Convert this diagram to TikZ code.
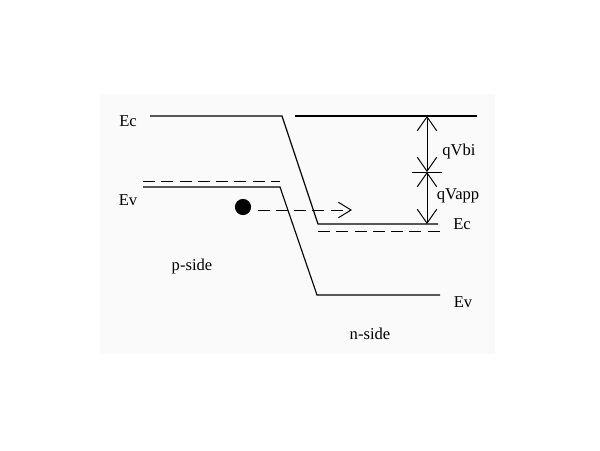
\documentclass[tikz,border=0pt]{standalone}
\usepackage{fontspec}
\setmainfont{Liberation Serif}
\usetikzlibrary{arrows.meta}
\begin{document}
\begin{tikzpicture}[x=0.025cm, y=-0.025cm, line width=0.7pt,
    every node/.style={font=\fontsize{11.8}{13}\selectfont, inner sep=0pt},
    band/.style={draw, line width=0.8pt},
    level/.style={draw, dashed, dash pattern=on 8.5pt off 4.5pt},
    barb/.style={{Straight Barb[length=10pt,width=14pt]}-{Straight Barb[length=10pt,width=14pt]}}]
    % Fond
    \useasboundingbox (0,0) rectangle (600,450);
    \fill[black!2] (100,94) rectangle (495,354);

    % Bande de conduction
    \coordinate (pEcL) at (150,116);
    \coordinate (pEcR) at (282,116);
    \coordinate (nEcL) at (318,224);
    \coordinate (nEcR) at (438,224);
    \coordinate (topL) at (295,116);
    \coordinate (topR) at (477,116);
    \draw[band] (pEcL) -- (pEcR) -- (nEcL) -- (nEcR);
    \draw[band] (topL) -- (topR);

    % Bande de valence
    \coordinate (pEvL) at (143,187);
    \coordinate (pEvR) at (280,187);
    \coordinate (nEvL) at (317,295);
    \coordinate (nEvR) at (440,295);
    \draw[band] (pEvL) -- (pEvR) -- (nEvL) -- (nEvR);

    % Niveaux en pointillés
    \coordinate (pFL) at (143,181);
    \coordinate (pFR) at (280,181);
    \coordinate (nFL) at (318,231);
    \coordinate (nFR) at (442,231);
    \draw[level] (pFL) -- (pFR);
    \draw[level] (nFL) -- (nFR);

    % Hauteurs de barrière
    \coordinate (qTop) at (427,116);
    \coordinate (qMid) at (427,172);
    \coordinate (qBot) at (427,224);
    \coordinate (tickL) at (412,172);
    \coordinate (tickR) at (442,172);
    \draw[barb] (qTop) -- (qMid);
    \draw[barb] (qMid) -- (qBot);
    \draw (tickL) -- (tickR);

    % Porteur injecté
    \node[circle, fill=black, minimum size=11.5pt] (hole) at (243,207) {};
    \coordinate (jump) at (352,210);
    \draw[level, -{Straight Barb[length=9pt,width=11pt]}] (hole.east) ++(6,3) -- (jump);

    % Etiquettes
    \node (ecp) at (128,121) {Ec};
    \node (evp) at (128,200) {Ev};
    \node (ecn) at (462,224) {Ec};
    \node (evn) at (463,302) {Ev};
    \node (vbi) at (459,152) {qVbi};
    \node (vapp) at (458,196) {qVapp};
    \node (pside) at (192,267) {p-side};
    \node (nside) at (370,334) {n-side};
\end{tikzpicture}
\end{document}
